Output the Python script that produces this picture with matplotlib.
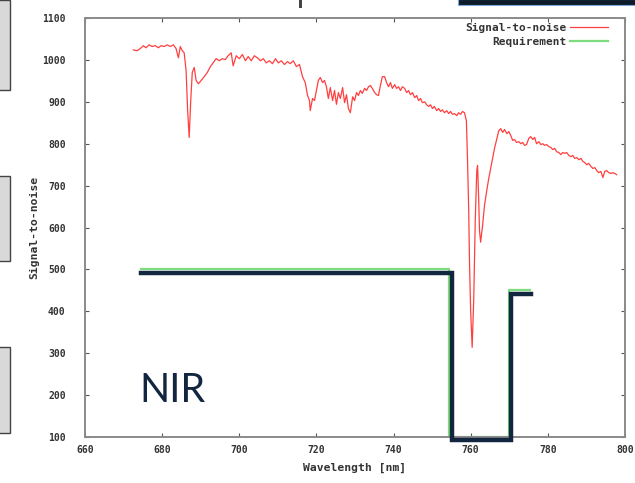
import matplotlib
matplotlib.use("Agg")
import matplotlib.pyplot as plt
from matplotlib.patches import Rectangle

# signal-to-noise spectrum (wavelength in nm, S/N)
wavelength = [
    672.5, 673.5, 674.3, 675.1, 675.8, 676.6, 677.4, 678.2, 679.0, 679.7,
    680.5, 681.3, 682.1, 682.9, 683.6, 684.2, 684.7, 685.2, 685.7, 686.2,
    686.6, 687.0, 687.4, 687.8, 688.3, 688.8, 689.4, 690.1, 690.9, 691.7,
    692.5, 693.2, 694.0, 694.8, 695.6, 696.4, 697.1, 697.9, 698.4, 699.2,
    700.0, 700.8, 701.6, 702.3, 703.1, 703.9, 704.7, 705.5, 706.2, 707.0,
    707.8, 708.6, 709.4, 710.1, 710.9, 711.7, 712.5, 713.2, 714.0, 714.8,
    715.6, 716.4, 717.1, 717.7, 718.2, 718.4, 719.0, 719.5, 720.0, 720.5,
    721.0, 721.6, 722.1, 722.6, 723.1, 723.6, 724.2, 724.7, 725.2, 725.7,
    726.2, 726.8, 727.3, 727.8, 728.3, 728.8, 729.4, 729.9, 730.4, 730.9,
    731.4, 731.9, 732.5, 733.0, 733.5, 734.0, 734.5, 735.1, 735.6, 736.1,
    736.6, 737.1, 737.7, 738.2, 738.7, 739.2, 739.7, 740.3, 740.8, 741.3,
    741.8, 742.3, 742.9, 743.4, 743.9, 744.4, 744.9, 745.5, 746.0, 746.5,
    747.0, 747.5, 748.1, 748.6, 749.1, 749.6, 750.1, 750.6, 751.2, 751.7,
    752.2, 752.7, 753.2, 753.8, 754.3, 754.8, 755.3, 755.8, 756.4, 756.9,
    757.4, 757.9, 758.4, 758.9, 759.2, 759.5, 759.7, 760.0, 760.4, 760.8,
    761.2, 761.6, 761.8, 762.1, 762.3, 762.6, 763.1, 763.6, 764.2, 764.7,
    765.2, 765.7, 766.2, 766.8, 767.3, 767.8, 768.3, 768.8, 769.4, 769.9,
    770.4, 770.9, 771.4, 771.9, 772.5, 773.0, 773.5, 774.0, 774.5, 775.1,
    775.6, 776.1, 776.6, 777.1, 777.7, 778.2, 778.7, 779.2, 779.7, 780.3,
    780.8, 781.3, 781.8, 782.3, 782.9, 783.4, 783.9, 784.4, 784.9, 785.5,
    786.0, 786.5, 787.0, 787.5, 788.1, 788.6, 789.1, 789.6, 790.1, 790.6,
    791.2, 791.7, 792.2, 792.7, 793.2, 793.8, 794.3, 794.8, 795.3, 795.8,
    796.4, 796.9, 797.4, 797.9,
]
snr = [
    1024, 1022, 1027, 1034, 1029, 1036, 1032, 1034, 1029, 1034,
    1032, 1036, 1032, 1036, 1027, 1005, 1032, 1022, 1017, 974,
    879, 815, 903, 970, 982, 951, 943, 951, 960, 970,
    984, 993, 1003, 998, 1003, 1001, 1010, 1017, 986, 1010,
    1003, 1013, 998, 1008, 998, 1010, 1005, 998, 1003, 993,
    998, 991, 1003, 993, 998, 989, 996, 991, 998, 984,
    989, 960, 946, 915, 903, 879, 908, 903, 927, 951,
    958, 946, 951, 936, 908, 934, 903, 927, 894, 922,
    908, 934, 898, 917, 884, 874, 912, 903, 922, 915,
    927, 920, 932, 927, 936, 939, 932, 922, 917, 915,
    939, 960, 960, 946, 936, 946, 932, 941, 932, 936,
    927, 936, 932, 922, 927, 917, 922, 910, 915, 903,
    908, 898, 900, 893, 889, 893, 884, 889, 879, 884,
    877, 881, 874, 879, 872, 877, 870, 872, 867, 874,
    870, 877, 874, 855, 760, 641, 522, 403, 314, 426,
    617, 736, 748, 665, 593, 565, 605, 653, 689, 717,
    741, 765, 789, 812, 831, 836, 827, 834, 824, 829,
    820, 808, 810, 803, 805, 800, 803, 796, 798, 813,
    817, 810, 815, 800, 805, 798, 800, 796, 798, 793,
    791, 786, 789, 781, 779, 774, 779, 777, 779, 772,
    769, 772, 765, 767, 762, 765, 758, 755, 750, 753,
    746, 741, 743, 736, 731, 734, 719, 734, 736, 731,
    729, 731, 729, 726,
]

# requirement steps
req_wl = [674.5, 754.5, 754.5, 770.0, 770.0, 775.5]
req_snr = [500, 500, 100, 100, 450, 450]

# hand-drawn overlay of the requirement
nir_wl = [674.5, 755.2, 755.2, 770.4, 770.4, 775.6]
nir_snr = [492, 492, 92, 92, 441, 441]

x_ticks = [660, 680, 700, 720, 740, 760, 780, 800]
y_ticks = [100, 200, 300, 400, 500, 600, 700, 800, 900, 1000, 1100]

mono = "DejaVu Sans Mono"
grey = "#8a8a8a"
ink = "#333333"

fig = plt.figure(figsize=(6.35, 4.83), dpi=100)
ax = fig.add_axes([0.134, 0.0952, 0.850, 0.8675])

ax.plot(wavelength, snr, color="#ff4040", lw=0.9, label="Signal-to-noise")
ax.plot(req_wl, req_snr, color="#7ddc7d", lw=1.6, label="Requirement")
ax.plot(nir_wl, nir_snr, color="#13263f", lw=3.2, solid_joinstyle="miter",
        clip_on=False, zorder=5)

ax.text(674.2, 183, "NIR", fontsize=28.5, family="Lato", color="#13263f",
        ha="left", va="baseline")

ax.set_xlim(660, 800)
ax.set_ylim(100, 1100)
ax.set_xticks(x_ticks)
ax.set_yticks(y_ticks)
ax.tick_params(direction="in", length=3, width=0.8, color="#555555",
               top=True, right=True, labelsize=7, labelcolor=ink)
ax.tick_params(axis="x", pad=6)
ax.tick_params(axis="y", pad=14)
for lab in ax.get_xticklabels() + ax.get_yticklabels():
    lab.set_family(mono)
    lab.set_fontweight("bold")
for s in ax.spines.values():
    s.set_color(grey)
    s.set_linewidth(1.4)

ax.set_xlabel("Wavelength [nm]", family=mono, fontweight="bold", fontsize=8.2,
              color=ink, labelpad=5)
ax.set_ylabel("Signal-to-noise", family=mono, fontweight="bold", fontsize=8.2,
              color=ink, labelpad=2)

leg = ax.legend(loc="upper right", bbox_to_anchor=(0.9685, 0.989),
                frameon=False, markerfirst=False, handlelength=3.4,
                fontsize=8, borderaxespad=0, borderpad=0,
                handletextpad=0.3, labelspacing=0.35)
for t in leg.get_texts():
    t.set_family(mono)
    t.set_fontweight("bold")
    t.set_color(ink)

# bits of the surrounding slide
for y0, y1 in [(0, 90), (176, 261), (347, 433)]:
    fig.add_artist(Rectangle((-2 / 635, 1 - y1 / 483), 12 / 635, (y1 - y0) / 483,
                             transform=fig.transFigure, facecolor="#d9d9d9",
                             edgecolor="#444444", lw=1.0))
fig.add_artist(Rectangle((458 / 635, 1 - 5 / 483), 180 / 635, 6 / 483,
                         transform=fig.transFigure, facecolor="#0d1b2a",
                         edgecolor="#7fa7d9", lw=0.8))
fig.add_artist(Rectangle((299 / 635, 1 - 8 / 483), 3 / 635, 8 / 483,
                         transform=fig.transFigure, facecolor="#444444",
                         edgecolor="none"))

fig.savefig("out.png", dpi=100)
